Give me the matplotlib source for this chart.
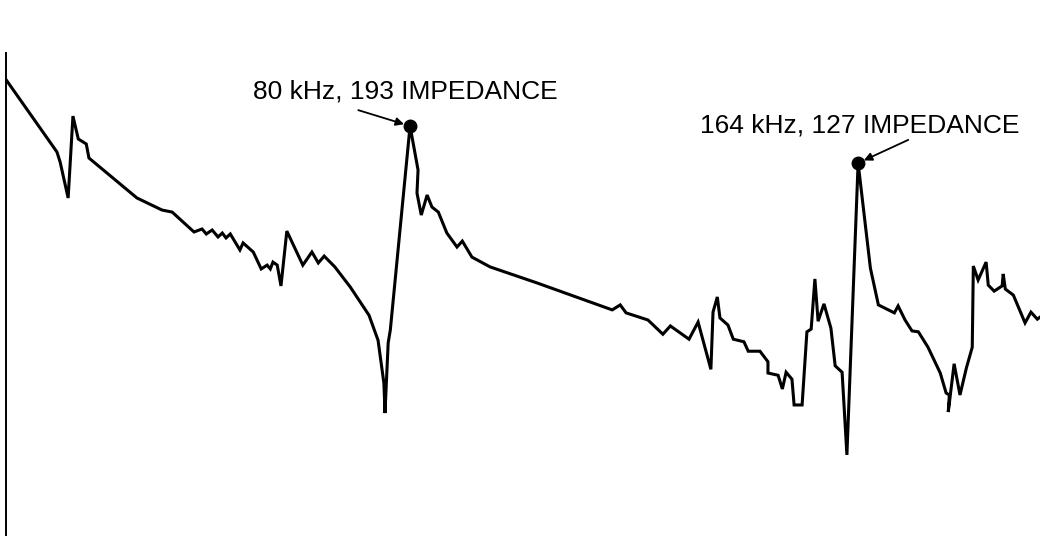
import matplotlib.pyplot as plt
from matplotlib import font_manager

freq_khz = [4.3, 13.8, 14.4, 15.9, 16.8, 17.8, 19.3, 19.8, 28.8, 33.5,
            35.4, 39.5, 41.0, 41.8, 42.9, 44.0, 44.8, 45.5, 46.3, 48.1,
            48.7, 50.6, 52.1, 53.2, 53.8, 54.3, 55.1, 55.8, 56.9, 59.9,
            61.6, 62.8, 63.9, 65.9, 68.8, 72.3, 74.0, 75.1, 75.3, 75.9,
            76.3, 80.0, 81.5, 81.3, 82.1, 83.2, 84.1, 85.3, 86.9, 88.8,
            89.8, 91.6, 95.0, 103.8, 117.9, 119.4, 120.5, 124.6, 127.4, 128.8,
            132.3, 134.0, 136.4, 136.8, 137.6, 138.1, 139.6, 140.6, 142.6, 143.4,
            145.6, 147.1, 147.1, 149.0, 149.8, 150.5, 151.6, 152.0, 153.5, 154.4,
            155.2, 155.9, 156.5, 157.6, 158.9, 159.7, 161.0, 161.9, 164.0, 166.3,
            167.8, 170.8, 171.5, 172.8, 174.1, 175.3, 177.1, 179.4, 180.5, 181.1,
            180.9, 182.0, 183.1, 184.3, 185.4, 185.6, 186.5, 188.0, 188.4, 189.5,
            191.0, 191.2, 191.6, 193.1, 195.3, 196.4, 197.6, 198.1]
impedance = [325, 143.9, 128.4, 85.5, 216, 166.7, 157.5, 134.4, 85.5, 74.6,
             72.9, 58.2, 60.2, 56.9, 59.5, 55.0, 57.5, 54.4, 56.9, 47.5,
             51.4, 46.4, 38.3, 40.0, 38.3, 41.4, 40.0, 31.6, 58.8, 40.0,
             46.4, 41.0, 44.3, 39.2, 31.2, 22.7, 17.1, 10.5, 7.50, 16.6,
             19.2, 193, 117.3, 90.4, 70.5, 88.4, 77.2, 72.9, 57.5, 49.1,
             52.5, 43.8, 39.2, 32.7, 24.1, 25.5, 23.3, 21.5, 18.3, 20.1,
             17.3, 21.0, 12.3, 23.5, 27.9, 22.0, 20.3, 17.3, 16.8, 15.1,
             15.1, 13.4, 11.8, 11.5, 9.85, 11.9, 11.0, 8.22, 8.22, 18.8,
             19.4, 34.2, 21.2, 25.8, 19.6, 12.8, 11.9, 4.67, 127, 38.7,
             25.5, 23.3, 25.2, 21.5, 19.0, 18.8, 15.8, 11.8, 9.41, 9.20,
             7.59, 13.1, 9.20, 12.5, 15.8, 39.6, 33.8, 41.4, 31.9, 29.8,
             31.6, 36.2, 30.5, 28.5, 20.8, 23.5, 21.7, 22.2]

peaks = [(80, 193), (164, 127)]
labels = ["80 kHz, 193 IMPEDANCE", "164 kHz, 127 IMPEDANCE"]
arrow_from = [(70.3, 231), (173.4, 165)]

names = {f.name for f in font_manager.fontManager.ttflist}
fam = "Liberation Sans" if "Liberation Sans" in names else "DejaVu Sans"

fig = plt.figure(figsize=(10.4, 5.36), dpi=100)
ax = fig.add_axes([6 / 1040, 0, 1 - 6 / 1040, 483 / 536])

ax.plot(freq_khz, impedance, color="black", lw=2.2, solid_joinstyle="miter")
ax.set_yscale("log")
ax.set_xlim(4.25, 198.1)
ax.set_ylim(1.866, 441)

for (fx, fz), (ax0, az0) in zip(peaks, arrow_from):
    ax.plot(fx, fz, "o", color="black", ms=9, zorder=5)
    ax.annotate("", xy=(fx, fz), xytext=(ax0, az0),
                arrowprops=dict(arrowstyle="-|>", color="black", lw=1.3,
                                mutation_scale=12, shrinkA=0, shrinkB=4.5))

fig.text(253 / 1040, 1 - 98 / 536, labels[0], fontsize=19, family=fam,
         ha="left", va="baseline")
fig.text(700 / 1040, 1 - 133 / 536, labels[1], fontsize=19, family=fam,
         ha="left", va="baseline")

for s in ["top", "right", "bottom"]:
    ax.spines[s].set_visible(False)
ax.spines["left"].set_linewidth(1.4)
ax.set_xticks([])
ax.set_yticks([])
ax.minorticks_off()
ax.yaxis.set_minor_locator(plt.NullLocator())

fig.savefig("out.png", dpi=100)
